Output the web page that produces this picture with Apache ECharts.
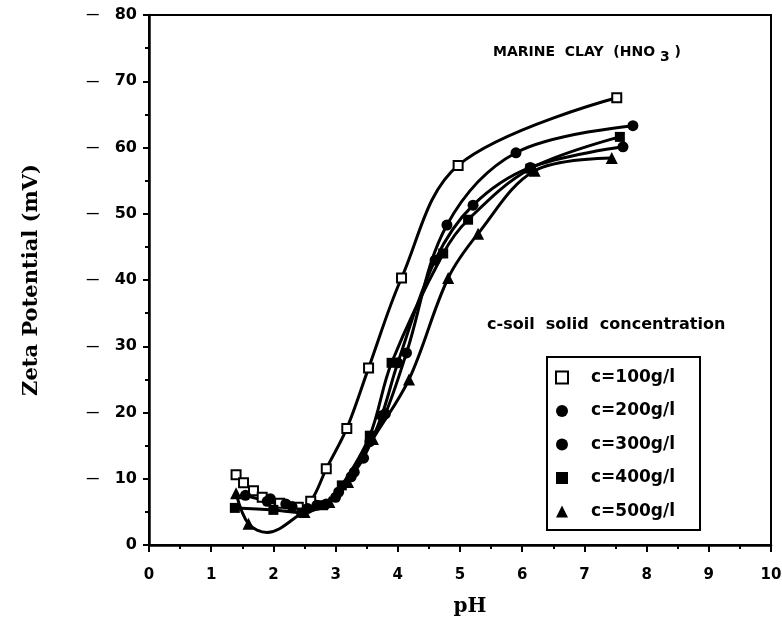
<!DOCTYPE html>
<html>
<head>
<meta charset="utf-8">
<script src="https://cdn.jsdelivr.net/npm/echarts@6/dist/echarts.min.js"></script>
<style>html,body{margin:0;padding:0;background:#fff;overflow:hidden;}#chart{width:782px;height:634px;}</style>
</head>
<body>
<div id="chart"></div>
<script>
// Data: [pH, zeta potential (mV)]
const seriesNames = ['c=100g/l', 'c=200g/l', 'c=300g/l', 'c=400g/l', 'c=500g/l'];
const c100 = [[1.40,10.6],[1.52,9.4],[1.68,8.2],[1.82,7.2],[2.10,6.3],[2.40,5.7],[2.60,6.6],[2.85,11.5],[3.18,17.6],[3.53,26.7],[4.06,40.3],[4.97,57.3],[7.52,67.5]];
const c200 = [[1.95,7.0],[2.20,6.2],[2.55,5.5],[2.85,6.2],[3.05,8.0],[3.25,10.3],[3.55,15.6],[3.80,19.8],[4.14,29.0],[4.79,48.3],[5.90,59.2],[7.78,63.3]];
const c300 = [[1.55,7.5],[1.90,6.6],[2.30,5.8],[2.70,6.0],[3.00,7.2],[3.30,11.0],[3.45,13.1],[3.74,19.5],[4.00,27.5],[4.60,43.0],[5.21,51.3],[6.13,57.0],[7.62,60.1]];
const c400 = [[1.38,5.6],[2.00,5.3],[2.45,4.9],[2.80,6.0],[3.10,9.0],[3.55,16.5],[3.90,27.5],[4.73,44.0],[5.13,49.1],[6.13,56.8],[7.57,61.6]];
const c500 = [[1.40,7.8],[1.60,3.2],[1.90,1.9],[2.50,5.0],[2.90,6.5],[3.20,9.5],[3.60,16.0],[4.18,25.0],[4.81,40.3],[5.29,47.0],[6.20,56.5],[7.44,58.4]];
const hiddenMarkerPoints500 = [2]; // curve-only point (minimum of the fitted curve)
const xTicks = [0,1,2,3,4,5,6,7,8,9,10];
const yTicks = [0,10,20,30,40,50,60,70,80];

const chart = echarts.init(document.getElementById('chart'), null, {renderer: 'canvas', width: 782, height: 634});
const sans = 'DejaVu Sans';
const lsans = 'Liberation Sans';
const serif = 'DejaVu Serif';

function mkSeries(name, data, symbol, size, hidden) {
  return {
    name: name,
    type: 'line',
    smooth: 0.35,
    data: data.map((d, i) => (hidden && hidden.indexOf(i) >= 0) ? {value: d, symbol: 'none'} : d),
    symbol: symbol,
    symbolSize: size,
    showAllSymbol: true,
    lineStyle: {color: '#000', width: 3},
    itemStyle: {color: '#000', borderColor: '#000', borderWidth: symbol === 'emptyRect' ? 3 : 0},
    z: 3
  };
}

const option = {
  animation: false,
  backgroundColor: '#fff',
  title: {
    text: 'MARINE  CLAY  (HNO {sub|3} )',
    left: 488, top: 36,
    textStyle: {
      fontFamily: sans, fontWeight: 'bold', fontSize: 14, color: '#000',
      rich: {sub: {fontFamily: sans, fontWeight: 'bold', fontSize: 14, color: '#000', padding: [9, 0, 0, 0]}}
    }
  },
  graphic: [{
    type: 'text', left: 487, top: 317,
    style: {text: 'c-soil  solid  concentration', font: 'bold 16px "DejaVu Sans"', fill: '#000'}
  }],
  legend: {
    orient: 'vertical',
    left: 547, top: 357,
    padding: [12, 25, 10, 8],
    itemGap: 16.5,
    itemWidth: 12, itemHeight: 12,
    borderColor: '#000', borderWidth: 2,
    data: [
      {name: seriesNames[0], icon: 'emptyRect'},
      {name: seriesNames[1], icon: 'circle'},
      {name: seriesNames[2], icon: 'circle'},
      {name: seriesNames[3], icon: 'rect'},
      {name: seriesNames[4], icon: 'triangle'}
    ],
    itemStyle: {color: '#000', borderColor: '#000'},
    textStyle: {fontFamily: sans, fontWeight: 'bold', fontSize: 17, color: '#000', padding: [0, 0, 0, 18]}
  },
  grid: {
    left: 149, right: 11, top: 15, bottom: 89,
    outerBoundsMode: 'none',
    containLabel: false,
    show: true, borderColor: '#000', borderWidth: 2, backgroundColor: 'transparent'
  },
  xAxis: {
    type: 'value', min: xTicks[0], max: xTicks[xTicks.length - 1], interval: 1,
    name: 'pH', nameLocation: 'middle', nameGap: 52,
    nameTextStyle: {fontFamily: serif, fontWeight: 'bold', fontSize: 20, color: '#000', padding: [0, 0, 0, 20]},
    axisLine: {show: true, lineStyle: {color: '#000', width: 2.5}},
    axisTick: {show: true, length: 7, lineStyle: {color: '#000', width: 2}},
    minorTick: {show: true, splitNumber: 2, length: 4, lineStyle: {color: '#000', width: 2}},
    splitLine: {show: false},
    axisLabel: {margin: 23, fontFamily: sans, fontWeight: 'bold', fontSize: 15, color: '#000'}
  },
  yAxis: {
    type: 'value', min: yTicks[0], max: yTicks[yTicks.length - 1], interval: 10,
    name: 'Zeta Potential (mV)', nameLocation: 'middle', nameGap: 107,
    nameTextStyle: {fontFamily: serif, fontWeight: 'bold', fontSize: 21, color: '#000'},
    axisLine: {show: true, lineStyle: {color: '#000', width: 2.5}},
    axisTick: {show: true, length: 6, lineStyle: {color: '#000', width: 2}},
    minorTick: {show: true, splitNumber: 2, length: 4, lineStyle: {color: '#000', width: 2}},
    splitLine: {show: false},
    axisLabel: {
      margin: 12,
      formatter: v => v === 0 ? '{v|0}' : '{d|—}{v|' + v + '}',
      rich: {
        d: {fontFamily: lsans, fontWeight: 'bold', fontSize: 12, color: '#000', padding: [0, 16, 0, 0]},
        v: {fontFamily: sans, fontWeight: 'bold', fontSize: 16, color: '#000'}
      }
    }
  },
  series: [
    mkSeries(seriesNames[0], c100, 'emptyRect', 9),
    mkSeries(seriesNames[1], c200, 'circle', 11),
    mkSeries(seriesNames[2], c300, 'circle', 11),
    mkSeries(seriesNames[3], c400, 'rect', 10),
    mkSeries(seriesNames[4], c500, 'triangle', 12, hiddenMarkerPoints500)
  ]
};
chart.setOption(option);
</script>
</body>
</html>
